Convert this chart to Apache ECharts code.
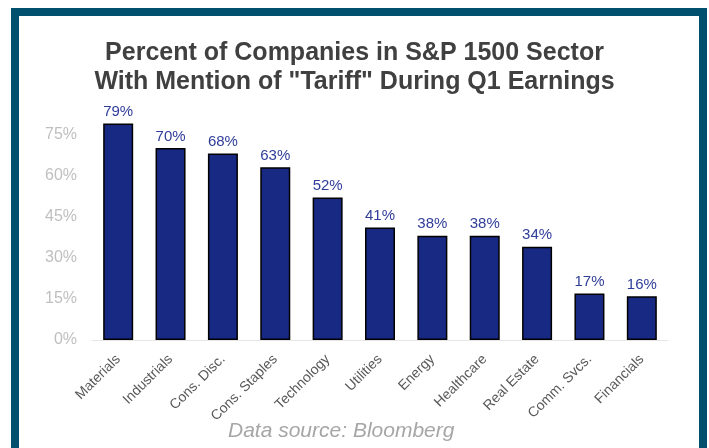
<!DOCTYPE html>
<html>
<head>
<meta charset="utf-8">
<script src="https://cdn.jsdelivr.net/npm/echarts@6/dist/echarts.min.js"></script>
<style>
html,body{margin:0;padding:0;background:#fff;}
#c{width:709px;height:448px;}
</style>
</head>
<body>
<div id="c"></div>
<script>
var categories = ["Materials","Industrials","Cons. Disc.","Cons. Staples","Technology","Utilities","Energy","Healthcare","Real Estate","Comm. Svcs.","Financials"];
var values = [79, 70, 68, 63, 52, 41, 38, 38, 34, 17, 16];
var yTicks = [0, 15, 30, 45, 60, 75];

var chart = echarts.init(document.getElementById('c'), null, {renderer:'canvas'});
chart.setOption({
  animation: false,
  backgroundColor: '#ffffff',
  title: {
    text: 'Percent of Companies in S&P 1500 Sector\nWith Mention of "Tariff" During Q1 Earnings',
    left: 'center',
    top: 39,
    padding: 0,
    textStyle: {fontFamily: 'Liberation Sans, Arial', fontSize: 25, fontWeight: 'bold', color: '#404040', lineHeight: 29}
  },
  graphic: [
    {type: 'rect', shape: {x: 11, y: 8, width: 8, height: 440}, style: {fill: '#00506e'}},
    {type: 'rect', shape: {x: 11, y: 8, width: 696, height: 8}, style: {fill: '#00506e'}},
    {type: 'rect', shape: {x: 699, y: 8, width: 8, height: 440}, style: {fill: '#00506e'}},
    {type: 'text', left: 228, top: 421, style: {text: 'Data source: Bloomberg', fontFamily: 'Liberation Sans, Arial', fontSize: 21, fontStyle: 'italic', fill: '#a6a6a6'}}
  ],
  grid: {left: 92, right: 41, top: 107, bottom: 108},
  xAxis: {
    type: 'category',
    data: categories,
    axisLine: {lineStyle: {color: '#e6e6e6', width: 1}},
    axisTick: {show: false},
    axisLabel: {rotate: 45, interval: 0, margin: 17, color: '#595959', fontFamily: 'Liberation Sans, Arial', fontSize: 14}
  },
  yAxis: {
    type: 'value',
    min: 0, max: 85, interval: 15,
    splitLine: {show: false},
    axisLine: {show: false},
    axisTick: {show: false},
    axisLabel: {
      margin: 15, color: '#bfbfbf', fontFamily: 'Liberation Sans, Arial', fontSize: 16,
      formatter: function (v) { return yTicks.indexOf(v) >= 0 ? v + '%' : ''; }
    }
  },
  series: [{
    type: 'bar',
    data: values,
    barWidth: 30,
    itemStyle: {color: '#172983', borderColor: '#000000', borderWidth: 1.5},
    label: {show: true, position: 'top', distance: 4, formatter: '{c}%', color: '#2f3d99', fontFamily: 'Liberation Sans, Arial', fontSize: 15}
  }]
});
</script>
</body>
</html>
